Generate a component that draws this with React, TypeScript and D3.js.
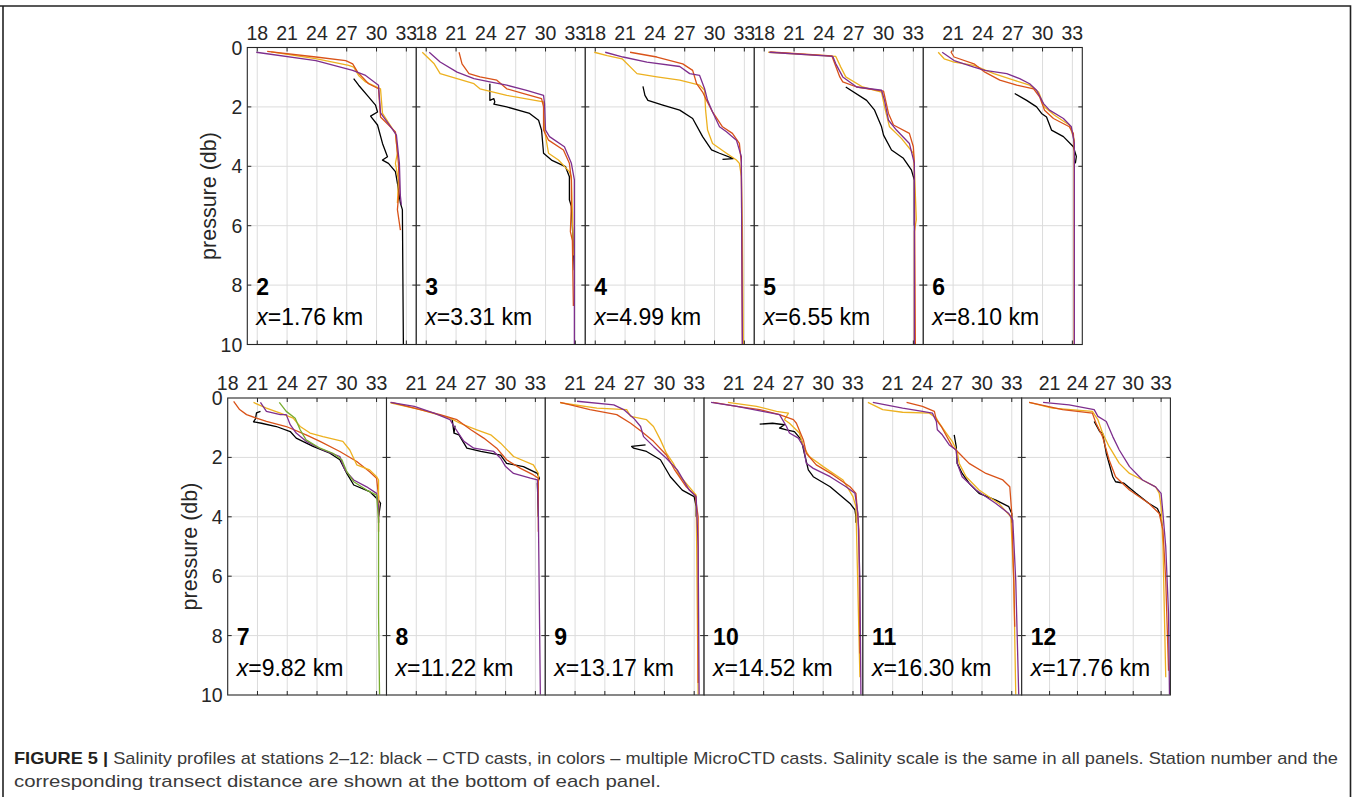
import React from "react";
import * as d3 from "d3";

type Pt = [number, number]; // [salinity, pressure]

// ---------- labels / ticks ----------
const stationNumbers = ["2", "3", "4", "5", "6", "7", "8", "9", "10", "11", "12"];
const stationDistances = ["1.76", "3.31", "4.99", "6.55", "8.10", "9.82", "11.22", "13.17", "14.52", "16.30", "17.76"];
const salinityMin = [17, 17, 17, 17, 18, 18, 18, 18, 18, 18, 18];
const salinityMax = 34;
const xTickValues = [18, 21, 24, 27, 30, 33];
const yTickValues = [0, 2, 4, 6, 8, 10];
const captionBold = "FIGURE 5 |";
const captionLine1 = " Salinity profiles at stations 2–12: black – CTD casts, in colors – multiple MicroCTD casts. Salinity scale is the same in all panels. Station number and the";
const captionLine2 = "corresponding transect distance are shown at the bottom of each panel.";

// ---------- station 2 ----------
const s2Black: Pt[] = [[27.7,1.05],[28.2,1.27],[29.2,1.66],[29.9,1.94],[30.1,2.17],[29.4,2.31],[30.1,2.61],[30.6,3.23],[31.1,3.68],[30.6,3.79],[31.2,3.9],[31.9,4.18],[32.1,4.57],[32.4,5.24],[32.6,5.46],[32.7,9.98]];
const s2Red: Pt[] = [[19.0,0.13],[23.9,0.32],[26.9,0.44],[27.6,0.55],[28.1,0.83],[29.2,1.22],[30.2,1.39],[30.4,2.34],[31.9,2.84],[32.2,3.9],[32.3,4.7],[32.1,5.46],[32.4,6.15]];
const s2Yellow: Pt[] = [[19.4,0.15],[24.0,0.38],[27.2,0.6],[27.7,0.66],[28.2,0.94],[28.9,1.16],[30.4,1.39],[30.6,2.22],[31.9,2.89],[32.1,3.56],[31.9,3.9],[32.2,4.46],[32.1,5.24]];
const s2Purple: Pt[] = [[17.9,0.16],[23.9,0.44],[27.6,0.77],[28.9,0.94],[30.2,1.27],[30.4,2.2],[31.7,2.8],[32.0,2.95],[32.3,3.9],[32.4,5.0],[32.5,5.3]];

// ---------- station 3 ----------
const s3Black: Pt[] = [[24.4,1.22],[24.4,1.78],[24.8,1.72],[24.9,1.83],[24.8,1.91],[26.1,2.0],[28.4,2.22],[29.3,2.45],[29.6,2.78],[29.8,3.56],[30.6,3.79],[32.0,4.01],[32.4,4.35],[32.4,5.13],[32.6,5.35],[32.8,6.69],[32.9,7.5]];
const s3Red: Pt[] = [[21.3,0.16],[21.6,0.55],[22.3,0.88],[23.4,0.99],[25.1,1.1],[26.1,1.39],[27.8,1.55],[29.6,1.72],[29.8,2.0],[29.8,2.78],[30.3,3.12],[31.8,3.45],[32.4,3.9],[32.6,4.46],[32.6,5.24],[32.5,6.2],[32.7,6.5],[32.8,8.7]];
const s3Yellow: Pt[] = [[17.6,0.16],[18.8,0.55],[19.4,0.88],[21.1,1.05],[22.8,1.22],[23.4,1.39],[26.1,1.61],[29.8,1.83],[29.9,2.78],[30.3,3.56],[31.3,3.79],[32.4,4.18],[32.6,4.35],[32.7,5.5],[32.8,7.0]];
const s3Purple: Pt[] = [[18.3,0.16],[19.4,0.49],[21.1,0.83],[22.8,1.05],[24.4,1.16],[26.1,1.27],[28.1,1.44],[29.8,1.61],[29.9,1.89],[30.0,2.78],[30.4,3.0],[31.9,3.34],[32.6,3.9],[32.9,4.46],[32.9,9.98]];

// ---------- station 4 ----------
const s4Black: Pt[] = [[22.8,1.31],[23.0,1.61],[23.3,1.78],[24.8,1.94],[26.5,2.11],[27.8,2.39],[28.8,3.0],[29.7,3.45],[30.5,3.56],[31.9,3.74],[30.8,3.77]];
const s4Red: Pt[] = [[21.5,0.16],[24.2,0.32],[26.8,0.55],[27.8,0.77],[28.2,1.22],[28.8,1.5],[29.2,1.78],[29.8,2.17],[30.8,2.67],[31.8,2.89],[32.5,3.23],[32.7,3.9],[32.8,9.98]];
const s4Yellow: Pt[] = [[17.9,0.16],[19.2,0.27],[20.7,0.38],[22.2,0.88],[24.2,0.99],[26.5,1.1],[28.5,1.27],[29.0,1.44],[29.1,2.11],[29.3,2.78],[29.8,3.23],[31.2,3.56],[32.2,3.79],[32.5,3.9],[32.7,4.35],[32.8,6.0],[32.9,9.98]];
const s4Purple: Pt[] = [[19.0,0.16],[20.8,0.32],[23.2,0.49],[26.5,0.64],[27.5,0.88],[28.5,0.94],[29.0,1.39],[29.3,1.78],[29.8,2.17],[30.5,2.67],[31.2,2.84],[32.2,3.12],[32.7,3.68],[32.7,4.12],[32.8,9.98]];

// ---------- station 5 ----------
const s5Black: Pt[] = [[26.2,1.33],[28.3,1.78],[29.1,2.11],[29.8,2.67],[30.0,2.95],[30.8,3.45],[32.0,3.73],[32.8,4.12],[33.1,4.46],[33.1,6.0]];
const s5Red: Pt[] = [[18.6,0.15],[24.8,0.28],[25.1,0.55],[25.6,0.99],[25.9,1.16],[27.3,1.33],[30.0,1.47],[30.5,2.22],[31.0,2.61],[32.6,2.89],[33.0,3.34],[33.1,3.9],[33.2,9.98]];
const s5Yellow: Pt[] = [[18.4,0.16],[25.2,0.3],[25.7,0.66],[26.2,0.99],[27.9,1.33],[29.8,1.5],[30.1,2.0],[30.6,2.67],[31.8,3.06],[33.0,3.56],[33.1,4.1],[33.3,5.8],[33.1,6.2],[33.1,9.98]];
const s5Purple: Pt[] = [[18.5,0.16],[24.9,0.3],[25.2,0.55],[25.9,0.99],[27.3,1.33],[29.8,1.44],[30.1,1.78],[30.5,2.45],[31.3,2.78],[32.6,3.23],[33.1,3.9],[33.1,9.98]];

// ---------- station 6 ----------
const s6Black: Pt[] = [[27.2,1.55],[28.4,1.78],[29.4,2.0],[29.9,2.22],[30.4,2.34],[30.9,2.78],[32.1,3.0],[33.1,3.34],[33.4,3.67],[33.3,3.9]];
const s6Red: Pt[] = [[20.9,0.1],[20.8,0.16],[21.1,0.32],[23.1,0.55],[24.2,0.83],[25.7,1.1],[27.4,1.27],[29.1,1.39],[29.7,1.66],[30.2,2.11],[31.1,2.39],[32.7,2.67],[33.1,2.89],[33.2,3.56],[33.2,9.98]];
const s6Yellow: Pt[] = [[19.5,0.16],[20.1,0.38],[21.1,0.49],[23.1,0.6],[25.1,0.88],[27.1,1.1],[28.7,1.27],[29.6,1.5],[30.2,2.0],[31.2,2.28],[32.7,2.61],[33.2,3.12],[33.2,9.98]];
const s6Purple: Pt[] = [[19.9,0.16],[21.1,0.44],[23.1,0.66],[24.2,0.77],[26.4,0.88],[27.7,1.05],[28.7,1.22],[29.4,1.44],[30.1,1.89],[30.7,2.11],[32.1,2.39],[32.9,2.67],[33.2,3.23],[33.2,9.98]];

// ---------- station 7 ----------
const s7Black: Pt[] = [[21.3,0.45],[20.9,0.5],[20.8,0.7],[20.6,0.8],[21.4,0.85],[22.9,0.96],[24.3,1.13],[24.9,1.35],[26.6,1.63],[28.3,1.86],[29.3,2.08],[30.0,2.54],[30.7,2.93],[32.3,3.15],[33.2,3.44],[33.4,3.55],[33.2,4.0],[33.2,4.2]];
const s7Red: Pt[] = [[18.6,0.11],[19.2,0.39],[19.9,0.56],[20.9,0.68],[21.9,0.79],[23.9,0.96],[25.9,1.24],[27.3,1.46],[29.3,1.8],[31.0,2.14],[32.3,2.48],[33.0,2.7],[33.2,3.32],[33.2,4.5]];
const s7Yellow: Pt[] = [[20.6,0.15],[21.9,0.34],[23.3,0.51],[24.6,0.68],[25.3,0.96],[26.3,1.18],[27.6,1.3],[29.6,1.46],[30.3,1.75],[31.0,2.25],[32.3,2.42],[33.0,2.65],[33.2,2.76],[33.2,3.9]];
const s7Purple: Pt[] = [[21.3,0.15],[21.9,0.45],[23.3,0.56],[23.9,0.56],[24.3,0.9],[24.9,1.18],[25.9,1.46],[27.6,1.75],[29.3,1.97],[29.8,2.42],[30.7,2.76],[32.0,2.99],[33.0,3.21],[33.2,3.66],[33.2,4.0]];
const s7Green: Pt[] = [[23.2,0.15],[23.9,0.45],[24.8,0.68],[25.3,1.07],[25.9,1.41],[27.3,1.69],[28.6,1.86],[29.5,2.08],[30.0,2.48],[30.7,2.82],[32.0,3.1],[33.0,3.27],[33.2,4.1],[33.2,7.27],[33.3,9.98]];

// ---------- station 8 ----------
const s8Black: Pt[] = [[24.6,0.68],[24.8,1.18],[24.9,0.95],[24.8,1.18],[25.3,1.24],[26.1,1.69],[27.5,1.8],[29.5,1.92],[30.1,2.2],[31.8,2.31],[33.2,2.54],[33.4,2.7],[33.2,2.87],[33.3,4.0]];
const s8Red: Pt[] = [[18.5,0.15],[20.8,0.34],[23.4,0.56],[25.1,0.73],[26.5,1.07],[27.8,1.35],[29.1,1.69],[30.1,2.08],[31.5,2.37],[32.8,2.59],[33.3,2.7],[33.3,4.5]];
const s8Yellow: Pt[] = [[18.4,0.16],[21.4,0.39],[24.4,0.68],[25.4,0.85],[27.1,1.07],[28.5,1.24],[29.5,1.52],[30.8,1.97],[32.8,2.25],[33.3,2.54],[33.3,4.0]];
const s8Purple: Pt[] = [[18.4,0.15],[20.8,0.28],[22.8,0.51],[24.4,0.73],[24.8,0.96],[25.8,1.46],[26.8,1.69],[28.8,1.8],[29.5,2.03],[30.0,2.31],[30.8,2.54],[32.5,2.7],[33.2,2.76],[33.3,3.89],[33.5,9.98]];

// ---------- station 9 ----------
const s9Black: Pt[] = [[28.1,1.58],[26.7,1.63],[26.9,1.69],[28.2,1.8],[29.6,2.08],[30.6,2.65],[31.8,3.1],[33.0,3.32],[33.2,3.66],[33.2,4.0]];
const s9Red: Pt[] = [[19.5,0.15],[22.5,0.39],[25.2,0.56],[26.6,0.85],[27.7,1.13],[28.9,1.46],[30.2,1.92],[31.0,2.4],[32.2,2.99],[33.1,3.27],[33.4,4.0],[33.4,9.6]];
const s9Yellow: Pt[] = [[19.5,0.16],[23.2,0.34],[26.2,0.39],[26.6,0.62],[28.2,0.73],[28.9,0.96],[29.6,1.41],[30.2,1.86],[30.9,2.2],[31.5,2.6],[32.5,2.99],[33.2,3.27],[33.4,9.98]];
const s9Purple: Pt[] = [[21.2,0.11],[24.9,0.23],[25.9,0.39],[26.9,0.68],[27.6,0.96],[27.9,1.3],[28.9,1.63],[30.2,2.03],[31.3,2.42],[32.5,3.1],[33.2,3.32],[33.4,5.0],[33.5,9.98]];

// ---------- station 10 ----------
const s10Black: Pt[] = [[23.6,0.88],[24.9,0.85],[26.1,0.9],[25.6,1.01],[26.3,1.07],[27.1,1.13],[27.8,1.41],[28.1,1.86],[28.5,2.42],[29.0,2.65],[30.7,2.99],[32.7,3.55],[33.2,3.77],[33.3,4.0],[33.3,4.2]];
const s10Red: Pt[] = [[18.9,0.15],[21.3,0.28],[23.6,0.39],[25.6,0.56],[27.0,0.73],[27.3,0.85],[28.0,1.41],[28.3,1.86],[29.3,2.25],[31.0,2.59],[32.7,2.99],[33.3,3.21],[33.6,4.45],[33.7,8.6]];
const s10Yellow: Pt[] = [[20.4,0.15],[23.3,0.28],[25.3,0.45],[26.5,0.51],[26.1,0.73],[26.6,0.85],[27.6,1.18],[28.0,1.63],[28.6,1.97],[30.0,2.31],[32.0,2.76],[33.0,3.32],[33.3,3.66],[33.7,9.4]];
const s10Purple: Pt[] = [[18.7,0.15],[21.3,0.28],[23.9,0.45],[25.6,0.56],[26.3,0.96],[26.6,1.18],[27.5,1.35],[28.0,1.63],[28.3,2.2],[29.0,2.37],[30.7,2.65],[32.3,2.99],[33.2,3.21],[33.5,3.89],[33.7,6.14],[33.8,9.98]];

// ---------- station 11 ----------
const s11Black: Pt[] = [[27.2,1.24],[27.4,1.63],[27.5,2.2],[28.0,2.54],[28.7,2.87],[29.7,3.21],[31.4,3.44],[32.7,3.66],[33.0,3.89],[33.0,4.2]];
const s11Red: Pt[] = [[22.4,0.15],[24.0,0.28],[25.2,0.45],[25.4,0.73],[25.9,0.96],[27.0,1.63],[27.7,1.86],[28.7,2.2],[30.4,2.54],[32.1,2.76],[32.8,2.99],[33.0,3.89],[33.2,6.14],[33.3,7.7]];
const s11Yellow: Pt[] = [[18.5,0.15],[20.0,0.39],[22.0,0.48],[24.7,0.51],[25.4,0.68],[25.7,0.85],[26.4,1.18],[27.0,1.46],[27.5,1.8],[27.7,2.2],[28.4,2.65],[29.7,3.1],[31.7,3.55],[32.9,4.0],[33.2,6.14],[33.4,9.98]];
const s11Purple: Pt[] = [[19.0,0.15],[22.0,0.34],[24.0,0.45],[25.0,0.51],[25.4,0.79],[25.5,1.07],[26.0,1.24],[26.7,1.58],[27.4,1.75],[27.5,2.2],[28.0,2.65],[29.4,3.1],[31.4,3.55],[32.7,3.89],[33.1,4.11],[33.4,6.14],[33.7,9.98]];

// ---------- station 12 ----------
const s12Black: Pt[] = [[25.8,0.79],[26.4,1.13],[26.7,1.18],[27.1,1.86],[27.8,2.65],[28.1,2.82],[29.0,2.87],[30.3,3.21],[31.7,3.55],[32.6,3.72],[33.0,4.0],[33.1,4.3]];
const s12Red: Pt[] = [[18.8,0.15],[22.4,0.39],[25.6,0.51],[26.0,0.85],[26.7,1.3],[27.4,2.08],[28.1,2.65],[29.6,3.1],[31.7,3.55],[32.8,3.89],[33.2,4.45],[33.5,6.14],[33.8,9.18]];
const s12Yellow: Pt[] = [[18.8,0.15],[21.3,0.34],[25.6,0.45],[26.2,0.73],[26.7,1.18],[27.4,1.63],[28.5,2.2],[29.6,2.54],[31.0,2.76],[32.4,2.99],[32.8,3.21],[33.0,3.66],[33.2,5.0],[33.5,9.4]];
const s12Purple: Pt[] = [[20.3,0.15],[23.1,0.23],[25.8,0.39],[26.2,0.62],[27.1,0.79],[27.8,1.3],[28.5,1.75],[29.6,2.31],[31.0,2.76],[32.4,2.99],[33.0,3.21],[33.2,3.89],[33.5,5.01],[33.8,7.27],[33.9,9.98]];

const COLORS = { black: "#000000", red: "#D95319", yellow: "#EDB120", purple: "#7E2F8E", green: "#77AC30" };

type Cast = { color: string; data: Pt[] };
const stationCasts: Cast[][] = [
  [{ color: COLORS.black, data: s2Black }, { color: COLORS.yellow, data: s2Yellow }, { color: COLORS.red, data: s2Red }, { color: COLORS.purple, data: s2Purple }],
  [{ color: COLORS.black, data: s3Black }, { color: COLORS.yellow, data: s3Yellow }, { color: COLORS.red, data: s3Red }, { color: COLORS.purple, data: s3Purple }],
  [{ color: COLORS.black, data: s4Black }, { color: COLORS.yellow, data: s4Yellow }, { color: COLORS.red, data: s4Red }, { color: COLORS.purple, data: s4Purple }],
  [{ color: COLORS.black, data: s5Black }, { color: COLORS.yellow, data: s5Yellow }, { color: COLORS.red, data: s5Red }, { color: COLORS.purple, data: s5Purple }],
  [{ color: COLORS.black, data: s6Black }, { color: COLORS.yellow, data: s6Yellow }, { color: COLORS.red, data: s6Red }, { color: COLORS.purple, data: s6Purple }],
  [{ color: COLORS.black, data: s7Black }, { color: COLORS.red, data: s7Red }, { color: COLORS.yellow, data: s7Yellow }, { color: COLORS.purple, data: s7Purple }, { color: COLORS.green, data: s7Green }],
  [{ color: COLORS.black, data: s8Black }, { color: COLORS.yellow, data: s8Yellow }, { color: COLORS.red, data: s8Red }, { color: COLORS.purple, data: s8Purple }],
  [{ color: COLORS.black, data: s9Black }, { color: COLORS.yellow, data: s9Yellow }, { color: COLORS.red, data: s9Red }, { color: COLORS.purple, data: s9Purple }],
  [{ color: COLORS.black, data: s10Black }, { color: COLORS.yellow, data: s10Yellow }, { color: COLORS.red, data: s10Red }, { color: COLORS.purple, data: s10Purple }],
  [{ color: COLORS.black, data: s11Black }, { color: COLORS.yellow, data: s11Yellow }, { color: COLORS.red, data: s11Red }, { color: COLORS.purple, data: s11Purple }],
  [{ color: COLORS.black, data: s12Black }, { color: COLORS.yellow, data: s12Yellow }, { color: COLORS.red, data: s12Red }, { color: COLORS.purple, data: s12Purple }],
];

// ---------- layout ----------
const W = 1355, H = 797;
const FONT = "'Liberation Sans', Arial, Helvetica, sans-serif";
const AX = "#262626";
const GRID = "#dcdcdc";
const PANEL_H = 297;
const rowsLayout = [
  { top: 47.5, left: 247.3, widths: [169, 169, 169, 169, 159], first: 0 },
  { top: 398, left: 227.7, widths: [158.8, 158.8, 158.8, 158.8, 158.8, 148.7], first: 5 },
];

function Panel({ idx, left, top, width, firstInRow }: { idx: number; left: number; top: number; width: number; firstInRow: boolean }) {
  const xMin = salinityMin[idx];
  const x = d3.scaleLinear().domain([xMin, salinityMax]).range([0, width]);
  const y = d3.scaleLinear().domain([0, 10]).range([0, PANEL_H]);
  const line = d3.line<Pt>().x((d) => x(d[0])).y((d) => y(d[1]));
  const clipId = `clip-${idx}`;
  const tickLen = 4;
  const innerX = xTickValues.filter((t) => t > xMin);
  const innerY = yTickValues.filter((t) => t > 0 && t < 10);
  return (
    <g transform={`translate(${left},${top})`}>
      <defs>
        <clipPath id={clipId}>
          <rect x={0} y={0} width={width} height={PANEL_H} />
        </clipPath>
      </defs>
      <rect x={0} y={0} width={width} height={PANEL_H} fill="#fff" />
      {innerX.map((t) => (
        <line key={`gx${t}`} x1={x(t)} x2={x(t)} y1={0} y2={PANEL_H} stroke={GRID} strokeWidth={1} />
      ))}
      {innerY.map((t) => (
        <line key={`gy${t}`} x1={0} x2={width} y1={y(t)} y2={y(t)} stroke={GRID} strokeWidth={1} />
      ))}
      <g clipPath={`url(#${clipId})`}>
        {stationCasts[idx].map((c, i) => (
          <path key={i} d={line(c.data) || ""} fill="none" stroke={c.color} strokeWidth={1.3} strokeLinejoin="round" />
        ))}
      </g>
      {innerX.map((t) => (
        <g key={`tx${t}`}>
          <line x1={x(t)} x2={x(t)} y1={0} y2={tickLen} stroke={AX} strokeWidth={1} />
          <line x1={x(t)} x2={x(t)} y1={PANEL_H} y2={PANEL_H - tickLen} stroke={AX} strokeWidth={1} />
        </g>
      ))}
      {innerY.map((t) => (
        <g key={`ty${t}`}>
          <line x1={0} x2={tickLen} y1={y(t)} y2={y(t)} stroke={AX} strokeWidth={1} />
          <line x1={width} x2={width - tickLen} y1={y(t)} y2={y(t)} stroke={AX} strokeWidth={1} />
        </g>
      ))}
      <rect x={0} y={0} width={width} height={PANEL_H} fill="none" stroke={AX} strokeWidth={1.1} />
      {xTickValues
        .filter((t) => t > xMin || firstInRow)
        .map((t) => (
          <text key={`lx${t}`} x={x(t)} y={-8} textAnchor="middle" fontSize={19.5} fill={AX} fontFamily={FONT}>
            {t}
          </text>
        ))}
      {firstInRow &&
        yTickValues.map((t) => (
          <text key={`ly${t}`} x={-5} y={y(t)} dy="0.36em" textAnchor="end" fontSize={19.5} fill={AX} fontFamily={FONT}>
            {t}
          </text>
        ))}
      {firstInRow && (
        <text transform={`translate(${-31},${PANEL_H / 2}) rotate(-90)`} textAnchor="middle" fontSize={21.5} fill={AX} fontFamily={FONT}>
          pressure (db)
        </text>
      )}
      <text x={9} y={y(8.32)} fontSize={23} fontWeight="bold" fill="#000" fontFamily={FONT}>
        {stationNumbers[idx]}
      </text>
      <text x={9} y={y(9.36)} fontSize={23} fill="#000" fontFamily={FONT}>
        <tspan fontStyle="italic">x</tspan>
        {`=${stationDistances[idx]} km`}
      </text>
    </g>
  );
}

export default function App() {
  const panels: JSX.Element[] = [];
  rowsLayout.forEach((row) => {
    let left = row.left;
    row.widths.forEach((w, i) => {
      const idx = row.first + i;
      panels.push(<Panel key={idx} idx={idx} left={left} top={row.top} width={w} firstInRow={i === 0} />);
      left += w;
    });
  });
  return (
    <svg width={W} height={H} style={{ position: "absolute", left: 0, top: 0, background: "#fff" }} xmlns="http://www.w3.org/2000/svg">
      <rect x={0} y={0} width={W} height={H} fill="#fff" />
      <path d={`M0,6 H1350.5 V${H + 2} M3,6 V${H + 2}`} fill="none" stroke="#222" strokeWidth={1.6} />
      {panels}
      <text x={14} y={764} fontSize={17} fill="#3a3a3a" fontFamily={FONT} textLength={1324} lengthAdjust="spacingAndGlyphs">
        <tspan fontWeight="bold" fill="#231f20">{captionBold}</tspan>
        {captionLine1}
      </text>
      <text x={14} y={787} fontSize={17} fill="#3a3a3a" fontFamily={FONT} textLength={647} lengthAdjust="spacingAndGlyphs">
        {captionLine2}
      </text>
    </svg>
  );
}
